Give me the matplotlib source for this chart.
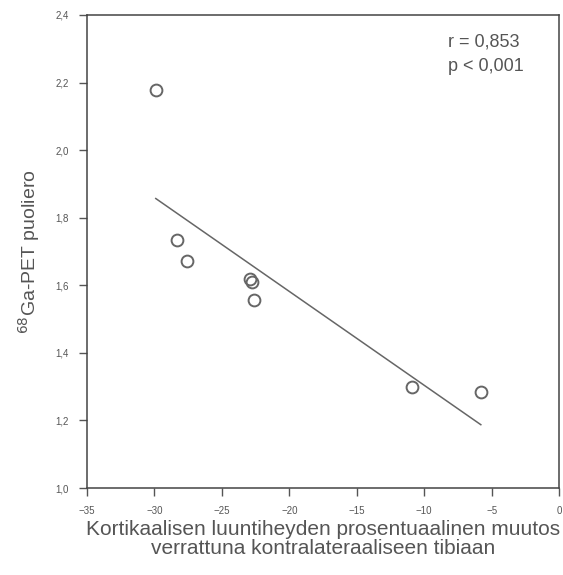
import matplotlib
matplotlib.use("Agg")
import matplotlib.pyplot as plt
import numpy as np

# data
muutos = [-29.9, -28.3, -27.6, -22.9, -22.8, -22.6, -10.9, -5.8]
puoliero = [2.178, 1.734, 1.672, 1.620, 1.610, 1.557, 1.299, 1.284]
x_ticks = [-35, -30, -25, -20, -15, -10, -5, 0]
y_ticks = [1.0, 1.2, 1.4, 1.6, 1.8, 2.0, 2.2, 2.4]
y_ticklabels = ["1,0", "1,2", "1,4", "1,6", "1,8", "2,0", "2,2", "2,4"]

plt.rcParams["font.family"] = ["Liberation Sans", "DejaVu Sans"]
grey = "#555555"

fig = plt.figure(figsize=(5.63, 5.75), dpi=100)
ax = fig.add_axes([0.1545, 0.1513, 0.8385, 0.8227])

x = np.array(muutos)
y = np.array(puoliero)
k, b = np.polyfit(x, y, 1)
xs = np.array([x.min(), x.max()])
ax.plot(xs, k * xs + b, color="#666666", lw=1.1)

ax.plot(x, y, "o", ms=8.5, mfc="none", mec="#666666", mew=1.4)

ax.set_xlim(-35, 0)
ax.set_ylim(1.0, 2.4)
ax.set_xticks(x_ticks)
ax.set_yticks(y_ticks)
ax.set_yticklabels(y_ticklabels)
ax.tick_params(direction="out", length=6, width=1, colors=grey, labelsize=7, pad=7)

for s in ax.spines.values():
    s.set_color("#444444")
    s.set_linewidth(1.1)

ax.set_xlabel("Kortikaalisen luuntiheyden prosentuaalinen muutos\nverrattuna kontralateraaliseen tibiaan",
              fontsize=15, color=grey, labelpad=3, linespacing=1.0)
ax.set_ylabel("$^{68}$Ga-PET puoliero", fontsize=14, color=grey, labelpad=10)

ax.text(0.765, 0.96, "r = 0,853\np < 0,001", transform=ax.transAxes,
        ha="left", va="top", fontsize=13, color=grey, linespacing=1.55)

fig.savefig("out.png", dpi=100)
